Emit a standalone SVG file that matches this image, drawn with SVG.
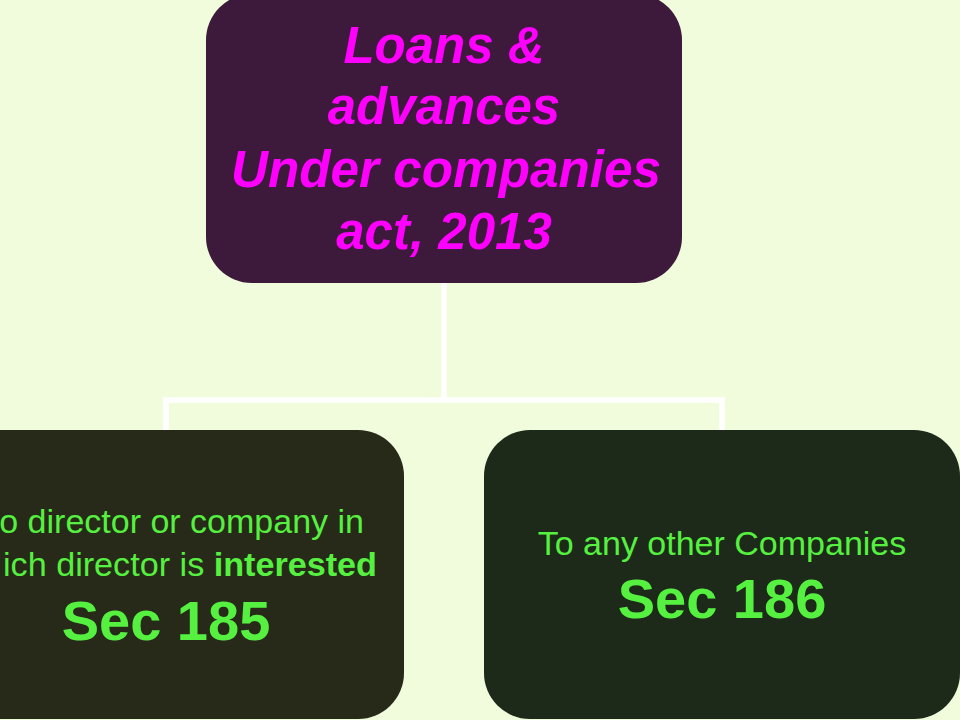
<svg xmlns="http://www.w3.org/2000/svg" width="960" height="720" viewBox="0 0 960 720">
<style>
.bg{fill:#F0FCDC}
.top{fill:#3D1A3B}
.left{fill:#272A19}
.right{fill:#1D2A19}
.conn{fill:none;stroke:#FFFFFF;stroke-width:5.5;stroke-linejoin:miter}
.t1{font-family:"Liberation Sans",Arial,sans-serif;font-weight:bold;font-style:italic;font-size:51px;fill:#FF00FF;text-anchor:middle}
.t2{font-family:"Liberation Sans",Arial,sans-serif;font-size:34px;fill:#55F040;text-anchor:middle}
.t2e{font-family:"Liberation Sans",Arial,sans-serif;font-size:34px;fill:#55F040;text-anchor:end}
.t3{font-family:"Liberation Sans",Arial,sans-serif;font-weight:bold;font-size:56px;fill:#55F040;text-anchor:middle}
</style>
<rect class="bg" x="0" y="0" width="960" height="720"/>
<g id="connectors">
<path class="conn" d="M444 283 V400"/>
<path class="conn" d="M166 430 V400 H722 V430"/>
</g>
<g id="node-root">
<rect class="top" x="206" y="-6" width="476" height="289" rx="46" ry="46"/>
<text class="t1" x="444" y="63">Loans &amp;</text>
<text class="t1" x="444" y="124">advances</text>
<text class="t1" x="446" y="187" textLength="430" lengthAdjust="spacingAndGlyphs">Under companies</text>
<text class="t1" x="444" y="249">act, 2013</text>
</g>
<g id="node-sec185">
<rect class="left" x="-72" y="430" width="476" height="289" rx="46" ry="46"/>
<text class="t2e" x="364" y="533">o director or company in</text>
<text class="t2e" x="377" y="576" textLength="374" lengthAdjust="spacingAndGlyphs">ich director is <tspan font-weight="bold">interested</tspan></text>
<text class="t3" x="166" y="640">Sec 185</text>
</g>
<g id="node-sec186">
<rect class="right" x="484" y="430" width="476" height="289" rx="46" ry="46"/>
<text class="t2" x="722" y="555">To any other Companies</text>
<text class="t3" x="722" y="618">Sec 186</text>
</g>
</svg>
